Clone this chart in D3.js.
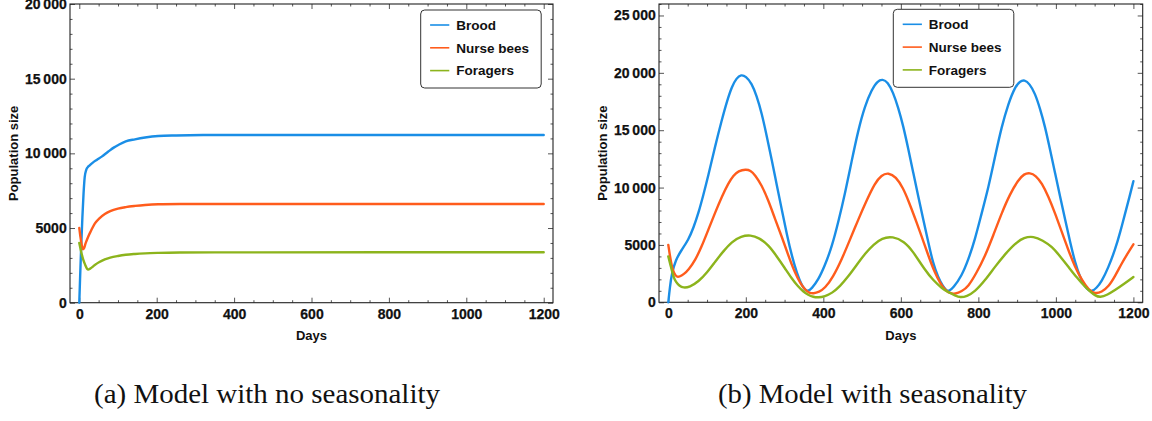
<!DOCTYPE html>
<html><head><meta charset="utf-8">
<script src="https://cdn.jsdelivr.net/npm/d3@7"></script>
<style>body{margin:0;background:#fff}svg{display:block}</style>
</head><body><svg id="c" width="1152" height="421"></svg>
<script>
// ---------------- data ----------------
const seriesNames = ["Brood", "Nurse bees", "Foragers"];
const seriesColors = ["#1a8ee6", "#ff5c1c", "#8cb41c"];
const xTickValues = [0, 200, 400, 600, 800, 1000, 1200];
const xTickLabels = ["0", "200", "400", "600", "800", "1000", "1200"];
const yTicksA = [0, 5000, 10000, 15000, 20000];
const yTickLabelsA = ["0", "5000", "10\u2009000", "15\u2009000", "20\u2009000"];
const yTicksB = [0, 5000, 10000, 15000, 20000, 25000];
const yTickLabelsB = ["0", "5000", "10\u2009000", "15\u2009000", "20\u2009000", "25\u2009000"];
const xLabel = "Days";
const yLabel = "Population size";
const captions = ["(a) Model with no seasonality", "(b) Model with seasonality"];

// (a) no seasonality: [day, population]
const broodA = [[0,0],[2,1600],[4,3100],[6,4450],[8,5700],[11,7300],[14,8400],[18,8900],[22,9080],[27,9200],[35,9380],[45,9560],[58,9780],[75,10120],[90,10400],[101,10560],[120,10800],[144,10940],[170,11060],[204,11160],[250,11200],[320,11225],[450,11230],[1200,11230]];
const nurseA = [[0,5000],[3,4400],[6,3900],[9.5,3580],[12,3640],[16,3950],[23,4420],[30,4800],[40,5300],[52,5650],[66,5940],[80,6130],[100,6300],[120,6400],[144,6480],[170,6545],[204,6590],[260,6605],[350,6610],[1200,6610]];
const foragerA = [[0,4000],[5,3400],[10,2900],[15,2550],[20,2280],[23,2220],[28,2280],[40,2520],[52,2720],[66,2900],[80,3020],[100,3130],[120,3210],[144,3265],[170,3305],[204,3335],[260,3360],[350,3372],[1200,3375]];

// (b) with seasonality: [day, population]
const broodB = [[0,0],[4,1300],[9,2500],[19,3700],[34,4550],[52,5450],[65,6500],[78,7800],[90,9300],[103,11000],[120,13500],[138,15900],[152,17600],[164,18800],[176,19550],[188,19850],[200,19700],[215,19100],[228,18000],[241,16500],[254,14500],[267,12400],[280,10200],[293,8050],[306,5900],[319,4000],[332,2500],[344,1500],[353,1080],[360,950],[370,1200],[387,1950],[404,3200],[422,4850],[439,7050],[456,9500],[473,12300],[490,15000],[507,17100],[525,18550],[540,19300],[553,19450],[566,19200],[580,18300],[593,17000],[606,15400],[619,13400],[632,11300],[645,9200],[658,7200],[671,5200],[683,3400],[696,2200],[709,1360],[717,1050],[724,950],[735,1250],[757,2300],[774,3700],[791,5450],[808,7700],[826,10000],[843,12700],[860,15300],[877,17300],[895,18800],[907,19250],[919,19400],[932,19050],[946,18230],[959,16900],[972,15320],[985,13300],[998,11250],[1011,9200],[1024,7180],[1037,5200],[1050,3400],[1062,2200],[1075,1360],[1085,1030],[1093,950],[1105,1250],[1118,1800],[1135,3000],[1153,4600],[1166,6100],[1179,7800],[1190,9200],[1200,10550]];
const nurseB = [[0,5000],[4,4100],[9,3100],[15,2500],[22,2180],[30,2250],[40,2450],[52,2820],[70,3700],[86,4850],[103,6300],[120,7750],[138,9200],[155,10380],[168,11050],[181,11450],[200,11600],[212,11500],[224,11100],[241,10200],[258,8900],[275,7300],[293,5700],[310,4050],[327,2550],[340,1700],[353,1070],[364,820],[374,760],[389,900],[404,1220],[425,2200],[447,3700],[468,5400],[490,7200],[512,8900],[533,10380],[550,11100],[568,11300],[587,10950],[606,9940],[619,8900],[637,7300],[654,5720],[671,4050],[688,2550],[701,1700],[714,1070],[727,780],[740,720],[757,950],[774,1360],[795,2550],[817,4000],[838,5800],[860,7760],[881,9400],[903,10670],[918,11200],[933,11300],[948,11050],[964,10380],[981,9200],[998,7760],[1015,6150],[1032,4560],[1049,3100],[1067,1950],[1084,1100],[1101,720],[1118,900],[1136,1360],[1153,2300],[1170,3400],[1185,4250],[1200,5050]];
const foragerB = [[0,4000],[6,3200],[13,2230],[20,1750],[28,1450],[39,1250],[55,1330],[78,1800],[100,2600],[121,3540],[142,4450],[164,5290],[188,5760],[212,5880],[235,5600],[258,5000],[280,4000],[301,2965],[318,2100],[335,1360],[348,950],[361,640],[374,460],[387,410],[404,520],[422,785],[443,1400],[464,2230],[486,3250],[508,4275],[530,5050],[551,5600],[579,5760],[609,5290],[630,4500],[662,2820],[684,1900],[706,1220],[723,850],[740,600],[753,410],[770,520],[791,925],[817,1900],[843,3105],[869,4200],[895,5150],[918,5650],[942,5760],[966,5400],[990,4850],[1011,4000],[1032,3105],[1054,2150],[1075,1360],[1088,950],[1101,600],[1114,410],[1133,650],[1153,1070],[1176,1600],[1200,2200]];

// ---------------- drawing ----------------
const svg = d3.select("#c");
const SANS = "'Liberation Sans', Arial, sans-serif";

function panel(o) {
  const g = svg.append("g");
  const x = d3.scaleLinear().domain([-24, 1224]).range([o.left, o.right]);
  const y = d3.scaleLinear().domain([0, o.ymax]).range([o.bottom, o.top]);
  const minorX = d3.range(0, 1201, 50).filter(d => d % 200 !== 0);
  const minorY = d3.range(0, o.ymax + 1, 1000).filter(d => d % 5000 !== 0);

  function axisGroup(axis, tx, ty) {
    const a = g.append("g").attr("transform", `translate(${tx},${ty})`).call(axis);
    a.select(".domain").remove();
    a.selectAll("line").attr("stroke", "#555").attr("stroke-width", 1);
    return a;
  }
  // bottom
  const bx = axisGroup(d3.axisBottom(x).tickValues(xTickValues).tickSize(-5).tickPadding(6)
    .tickFormat((d, i) => xTickLabels[i]), 0, o.bottom);
  axisGroup(d3.axisBottom(x).tickValues(minorX).tickSize(-2.5).tickFormat(""), 0, o.bottom);
  // top
  axisGroup(d3.axisTop(x).tickValues(xTickValues).tickSize(-5).tickFormat(""), 0, o.top);
  axisGroup(d3.axisTop(x).tickValues(minorX).tickSize(-2.5).tickFormat(""), 0, o.top);
  // left
  const ly = axisGroup(d3.axisLeft(y).tickValues(o.yTicks).tickSize(-5).tickPadding(3.3)
    .tickFormat((d, i) => o.yLabels[i]), o.left, 0);
  axisGroup(d3.axisLeft(y).tickValues(minorY).tickSize(-2.5).tickFormat(""), o.left, 0);
  // right
  axisGroup(d3.axisRight(y).tickValues(o.yTicks).tickSize(-5).tickFormat(""), o.right, 0);
  axisGroup(d3.axisRight(y).tickValues(minorY).tickSize(-2.5).tickFormat(""), o.right, 0);

  [bx, ly].forEach(a => a.selectAll("text")
    .attr("font-family", SANS).attr("font-size", 14).attr("font-weight", "bold")
    .attr("fill", "#111").attr("stroke", "#111").attr("stroke-width", 0.25));

  // frame
  g.append("rect").attr("x", o.left).attr("y", o.top)
    .attr("width", o.right - o.left).attr("height", o.bottom - o.top)
    .attr("fill", "none").attr("stroke", "#222").attr("stroke-width", 1.1);

  // lines
  const line = d3.line().x(d => x(d[0])).y(d => y(d[1])).curve(o.curve);
  o.series.forEach((s, i) => {
    g.append("path").datum(s).attr("d", line).attr("fill", "none")
      .attr("stroke", seriesColors[i]).attr("stroke-width", 2.4)
      .attr("stroke-linejoin", "round").attr("stroke-linecap", "round");
  });

  // axis titles
  g.append("text").attr("x", (o.left + o.right) / 2).attr("y", 340)
    .attr("text-anchor", "middle").attr("font-family", SANS).attr("font-size", 13)
    .attr("font-weight", "bold").attr("fill", "#111").text(xLabel);
  g.append("text").attr("transform", `translate(${o.left - 52.5},${(o.top + o.bottom) / 2}) rotate(-90)`)
    .attr("text-anchor", "middle").attr("font-family", SANS).attr("font-size", 13)
    .attr("font-weight", "bold").attr("fill", "#111").text(yLabel);

  // legend
  const lg = g.append("g").attr("transform", `translate(${o.legX},${o.legY})`);
  lg.append("rect").attr("width", 120.5).attr("height", 78).attr("rx", 4).attr("ry", 4)
    .attr("fill", "#fff").attr("stroke", "#333").attr("stroke-width", 1);
  seriesNames.forEach((n, i) => {
    const yy = 15 + i * 22.8;
    lg.append("line").attr("x1", 9.4).attr("x2", 28.6).attr("y1", yy).attr("y2", yy)
      .attr("stroke", seriesColors[i]).attr("stroke-width", 1.6);
    lg.append("text").attr("x", 35.5).attr("y", yy + 4.8).attr("font-family", SANS)
      .attr("font-size", 13.5).attr("font-weight", "bold").attr("fill", "#111").text(n);
  });

  // caption
  svg.append("text").attr("x", o.capX).attr("y", 403)
    .attr("font-family", "'Liberation Serif', 'DejaVu Serif', serif").attr("font-size", 27)
    .attr("fill", "#111").attr("textLength", o.capW).attr("lengthAdjust", "spacingAndGlyphs")
    .text(o.caption);
}

panel({left: 70, right: 553, top: 4, bottom: 302.7, ymax: 20000,
  yTicks: yTicksA, yLabels: yTickLabelsA, series: [broodA, nurseA, foragerA],
  curve: d3.curveMonotoneX,
  legX: 420.7, legY: 10, caption: captions[0], capX: 94, capW: 346});
panel({left: 659, right: 1142.7, top: 4, bottom: 302.3, ymax: 26000,
  yTicks: yTicksB, yLabels: yTickLabelsB, series: [broodB, nurseB, foragerB],
  curve: d3.curveBasis,
  legX: 893.3, legY: 9.3, caption: captions[1], capX: 718, capW: 309});
</script></body></html>
